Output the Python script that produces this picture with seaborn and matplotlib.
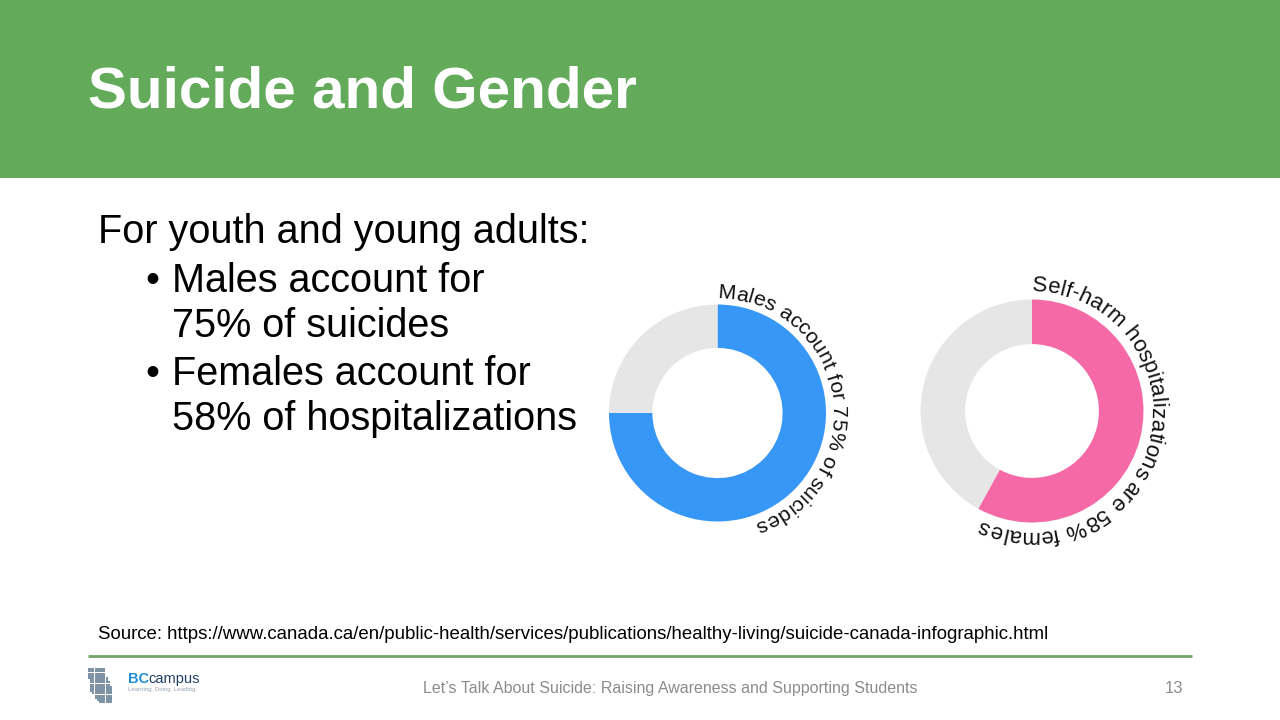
import numpy as np
import seaborn as sns
import matplotlib.pyplot as plt
from matplotlib.patches import Rectangle
from matplotlib.textpath import TextPath
from matplotlib.font_manager import FontProperties
from matplotlib.path import Path

# Dados do slide
titulo = "Suicide and Gender"
intro = "For youth and young adults:"
bullets = [["Males account for", "75% of suicides"],
           ["Females account for", "58% of hospitalizations"]]
donut_labels = ["Males account for 75% of suicides",
                "Self-harm hospitalizations are 58% females"]
donut_share = [75, 58]
donut_colors = ["#3797F7", "#F56AA6"]
resto_color = "#E6E6E6"
fonte = ("Source: https://www.canada.ca/en/public-health/services/publications/"
         "healthy-living/suicide-canada-infographic.html")
rodape = "Let\u2019s Talk About Suicide: Raising Awareness and Supporting Students"
pagina = "13"

# layout (pixels, y medido de cima)
donut_geo = [(717.5, 413, 108.5, 6.2, 15.3),   # cx, cy, raio, folga do texto, fonte pt
             (1032, 411, 111.5, 7.9, 16.0)]

sns.set_theme(style="white")
plt.rcParams['font.family'] = ['Liberation Sans', 'DejaVu Sans']
NARROW = ['Liberation Sans Narrow', 'Liberation Sans', 'DejaVu Sans']

W, H = 1280, 720
fig = plt.figure(figsize=(12.8, 7.2), dpi=100)
ax = fig.add_axes([0, 0, 1, 1])


def Y(y):
    return H - y


def fit_pt(texto, largura, **kw):
    fp = FontProperties(**kw)
    w = TextPath((0, 0), texto, size=100, prop=fp).get_extents().width
    return 100 * largura / w * 0.72


def texto_curvo(texto, cx, cy, raio, pt):
    fp = FontProperties(family=['Liberation Sans', 'DejaVu Sans'])
    px = pt / 0.72
    ref = TextPath((0, 0), '|', size=px, prop=fp).get_extents().x1
    bordas = [0.0]
    for i in range(1, len(texto) + 1):
        bordas.append(TextPath((0, 0), texto[:i] + '|', size=px, prop=fp).get_extents().x1 - ref)
    for i, ch in enumerate(texto):
        if ch == ' ':
            continue
        meio = (bordas[i] + bordas[i + 1]) / 2
        th = meio / raio
        x = cx + raio * np.sin(th)
        y = Y(cy) + raio * np.cos(th)
        ax.text(x, y, ch, rotation=-np.degrees(th), rotation_mode='anchor',
                ha='center', va='baseline', fontsize=pt, color='#111111', zorder=5)


# cabeçalho verde
ax.add_patch(Rectangle((0, Y(178)), W, 178, color='#63AB5B', lw=0, zorder=0))
ax.text(88, Y(108), titulo, fontsize=42, fontweight='bold', color='white', va='baseline')

# texto com bullets
ax.text(98, Y(243), intro, fontsize=28.5, va='baseline', color='black')
linhas_y = [[292, 337], [385, 430]]
for linhas, ys in zip(bullets, linhas_y):
    ax.text(152, Y(ys[0]), "\u2022", fontsize=28.5, ha='center', va='baseline', color='black')
    for txt, yy in zip(linhas, ys):
        ax.text(172, Y(yy), txt, fontsize=28.5, va='baseline', color='black')

# donuts
for share, cor, label, (cx, cy, r, gap, pt) in zip(donut_share, donut_colors, donut_labels, donut_geo):
    ax.pie([share, 100 - share], colors=[cor, resto_color], startangle=90, counterclock=False,
           radius=r, center=(cx, Y(cy)), frame=True,
           wedgeprops=dict(width=r * 0.4, linewidth=0))
    texto_curvo(label, cx, cy, r + gap, pt)

# fonte e rodapé
ax.text(98, Y(639), fonte, fontsize=fit_pt(fonte, 950), va='baseline', color='black')
ax.plot([88, 1192], [Y(656), Y(656)], color='#72A466', lw=2, solid_capstyle='butt')
ax.text(670, Y(693), rodape, fontsize=fit_pt(rodape, 492, family=NARROW), family=NARROW,
        ha='center', va='baseline', color='#8C8C8C')
ax.text(1183, Y(693), pagina, fontsize=12, family=NARROW, ha='right', va='baseline', color='#8C8C8C')

# logo BCcampus (aproximado)
gx, gy = np.meshgrid(np.arange(89, 114, 2.2), np.arange(667, 706, 2.2))
mapa = Path([(89, 667), (106, 667), (106, 676), (113, 690), (113, 704), (101, 704),
             (95, 698), (90, 690), (89, 680)])
dentro = mapa.contains_points(np.c_[gx.ravel(), gy.ravel()])
ax.scatter(gx.ravel()[dentro], Y(gy.ravel()[dentro]), s=1.2, marker='s', color='#7F93A6', lw=0)
ax.text(128, Y(683), "BC", fontsize=10.5, family=NARROW, fontweight='bold', color='#1E8FD8', va='baseline')
bc_w = TextPath((0, 0), "BC", size=10.5 / 0.72,
                prop=FontProperties(family=NARROW, weight='bold')).get_extents().width
ax.text(129 + bc_w, Y(683), "campus", fontsize=10.5, family=NARROW, color='#1F3F66', va='baseline')
ax.text(128, Y(691.5), "Learning. Doing. Leading.", fontsize=4.3, family=NARROW, color='#9AA4AE', va='baseline')

ax.set_xlim(0, W)
ax.set_ylim(0, H)
ax.set_aspect('auto')
ax.axis('off')
fig.savefig("out.png", dpi=100, facecolor='white')
